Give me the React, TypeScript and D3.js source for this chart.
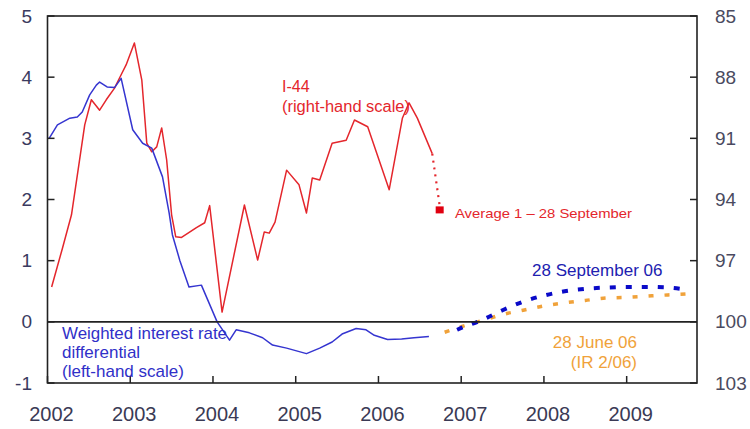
import React from "react";
import * as d3 from "d3";

// Weighted interest rate differential (left-hand scale, %-points)
const diffYears = [2002.02, 2002.12, 2002.27, 2002.36, 2002.42, 2002.51, 2002.59, 2002.63, 2002.72, 2002.81, 2002.89, 2003.03, 2003.15, 2003.26, 2003.39, 2003.47, 2003.51, 2003.6, 2003.71, 2003.86, 2004.05, 2004.2, 2004.28, 2004.44, 2004.6, 2004.72, 2004.89, 2005.13, 2005.29, 2005.44, 2005.56, 2005.73, 2005.85, 2005.95, 2006.11, 2006.28, 2006.43, 2006.61];
const diffValues = [3.0, 3.22, 3.33, 3.35, 3.43, 3.71, 3.87, 3.92, 3.84, 3.83, 3.98, 3.14, 2.92, 2.84, 2.37, 1.78, 1.42, 1.0, 0.57, 0.6, 0.0, -0.3, -0.13, -0.18, -0.26, -0.38, -0.43, -0.52, -0.43, -0.33, -0.2, -0.11, -0.13, -0.22, -0.29, -0.28, -0.26, -0.24];

// I-44 index (right-hand scale, inverted)
const i44Years = [2002.05, 2002.18, 2002.29, 2002.45, 2002.53, 2002.63, 2002.71, 2002.81, 2002.89, 2002.95, 2003.05, 2003.14, 2003.2, 2003.26, 2003.32, 2003.38, 2003.44, 2003.5, 2003.55, 2003.62, 2003.8, 2003.9, 2003.96, 2004.11, 2004.38, 2004.54, 2004.62, 2004.68, 2004.75, 2004.89, 2005.04, 2005.13, 2005.2, 2005.29, 2005.34, 2005.44, 2005.61, 2005.71, 2005.87, 2006.13, 2006.29, 2006.37, 2006.47, 2006.65];
const i44Values = [98.29, 96.4, 94.75, 90.34, 89.11, 89.62, 89.11, 88.54, 87.88, 87.4, 86.32, 88.15, 91.24, 91.66, 91.42, 90.49, 92.05, 94.75, 95.83, 95.86, 95.38, 95.14, 94.3, 99.52, 94.27, 96.97, 95.59, 95.65, 95.11, 92.56, 93.28, 94.66, 92.95, 93.04, 92.44, 91.24, 91.09, 90.1, 90.43, 93.52, 90.0, 89.26, 90.01, 91.75];
const i44AverageYear = 2006.74;
const i44AverageValue = 94.51;

// Forecast differentials (left-hand scale)
const sepYears = [2006.95, 2007.0, 2007.25, 2007.5, 2007.75, 2008.0, 2008.25, 2008.5, 2008.75, 2009.0, 2009.25, 2009.5, 2009.75];
const sepForecast = [-0.13, -0.1, 0.03, 0.19, 0.33, 0.43, 0.5, 0.54, 0.56, 0.57, 0.57, 0.56, 0.52];
const juneYears = [2006.8, 2007.0, 2007.25, 2007.5, 2007.75, 2008.0, 2008.25, 2008.5, 2008.75, 2009.0, 2009.25, 2009.5, 2009.77];
const juneForecast = [-0.17, -0.08, 0.02, 0.12, 0.19, 0.26, 0.31, 0.35, 0.39, 0.4, 0.42, 0.44, 0.46];

const leftTicks = [-1, 0, 1, 2, 3, 4, 5];
const rightTicks = [85, 88, 91, 94, 97, 100, 103];
const yearTicks = [2002, 2003, 2004, 2005, 2006, 2007, 2008, 2009];

const FONT = "Arial, 'Liberation Sans', sans-serif";

export default function App() {
  const W = 750, H = 429;
  const L = 47.5, R = 697, T = 16, B = 383;
  const x = d3.scaleLinear().domain([2002, 2009.85]).range([L, R]);
  const yL = d3.scaleLinear().domain([-1, 5]).range([B, T]);
  const yR = d3.scaleLinear().domain([103, 85]).range([B, T]);

  type P = [number, number];
  const diffPts: P[] = diffYears.map((t, i) => [x(t), yL(diffValues[i])]);
  const i44Pts: P[] = i44Years.map((t, i) => [x(t), yR(i44Values[i])]);
  const sepPts: P[] = sepYears.map((t, i) => [x(t), yL(sepForecast[i])]);
  const junePts: P[] = juneYears.map((t, i) => [x(t), yL(juneForecast[i])]);
  const connPts: P[] = [
    [x(i44Years[i44Years.length - 1]), yR(i44Values[i44Values.length - 1])],
    [x(i44AverageYear), yR(i44AverageValue) - 4],
  ];
  const line = d3.line<P>();
  const smooth = d3.line<P>().curve(d3.curveMonotoneX);

  const axisColor = "#222";
  const blue = "#3535d0";
  const red = "#e4262c";
  const fBlue = "#0a0ac8";
  const orange = "#f0a23a";

  return (
    <svg width={W} height={H} style={{ position: "absolute", left: 0, top: 0, background: "#fff" }}>
      <rect x={0} y={0} width={W} height={H} fill="#fff" />
      {/* forecasts */}
      <path d={smooth(junePts) || ""} fill="none" stroke={orange} strokeWidth={3.5} strokeDasharray="5 11" />
      <path d={smooth(sepPts) || ""} fill="none" stroke={fBlue} strokeWidth={4} strokeDasharray="6 10" />
      {/* series */}
      <path d={line(i44Pts) || ""} fill="none" stroke={red} strokeWidth={1.5} strokeLinejoin="round" />
      <path d={line(connPts) || ""} fill="none" stroke={red} strokeWidth={2.2} strokeDasharray="2 5" />
      <rect x={x(i44AverageYear) - 4} y={yR(i44AverageValue) - 3.5} width={8} height={7} fill="#e00010" />
      <path d={line(diffPts) || ""} fill="none" stroke={blue} strokeWidth={1.5} strokeLinejoin="round" />

      {/* frame */}
      <rect x={L} y={T} width={R - L} height={B - T} fill="none" stroke={axisColor} strokeWidth={1.6} />
      <line x1={L} x2={R} y1={yL(0)} y2={yL(0)} stroke={axisColor} strokeWidth={1.6} />
      {leftTicks.map((t) => (
        <g key={"l" + t}>
          <line x1={L} x2={L + 7} y1={yL(t)} y2={yL(t)} stroke={axisColor} strokeWidth={1.5} />
          <text x={32} y={yL(t)} dy="0.35em" textAnchor="end" fontFamily={FONT} fontSize={19} fill="#3a3a60">
            {t}
          </text>
        </g>
      ))}
      {rightTicks.map((t) => (
        <g key={"r" + t}>
          <line x1={R - 7} x2={R} y1={yR(t)} y2={yR(t)} stroke={axisColor} strokeWidth={1.5} />
          <text x={715} y={yR(t)} dy="0.35em" textAnchor="start" fontFamily={FONT} fontSize={19} fill="#4a4a60">
            {t}
          </text>
        </g>
      ))}
      {yearTicks.map((t) => (
        <g key={"x" + t}>
          <line x1={x(t)} x2={x(t)} y1={B - 7} y2={B} stroke={axisColor} strokeWidth={1.5} />
          <text x={x(t) + 4} y={421} textAnchor="middle" fontFamily={FONT} fontSize={20} fill="#3a3a55">
            {t}
          </text>
        </g>
      ))}

      {/* annotations */}
      <g fontFamily={FONT} fill={red}>
        <text x={282} y={92} fontSize={16}>I-44</text>
        <text x={282} y={112} fontSize={16} textLength={128} lengthAdjust="spacingAndGlyphs">(right-hand scale)</text>
        <text x={455} y={218} fontSize={13} textLength={177} lengthAdjust="spacingAndGlyphs">Average 1 – 28  September</text>
      </g>
      <g fontFamily={FONT} fill="#3030c8" fontSize={17}>
        <text x={62} y={339} textLength={165} lengthAdjust="spacingAndGlyphs">Weighted interest rate</text>
        <text x={62} y={358}>differential</text>
        <text x={62} y={377}>(left-hand scale)</text>
      </g>
      <text x={532} y={276} fontFamily={FONT} fontSize={17} fill="#2020b0">28 September 06</text>
      <g fontFamily={FONT} fontSize={17} fill={orange} textAnchor="end">
        <text x={637} y={348}>28 June 06</text>
        <text x={637} y={368}>(IR 2/06)</text>
      </g>
    </svg>
  );
}
